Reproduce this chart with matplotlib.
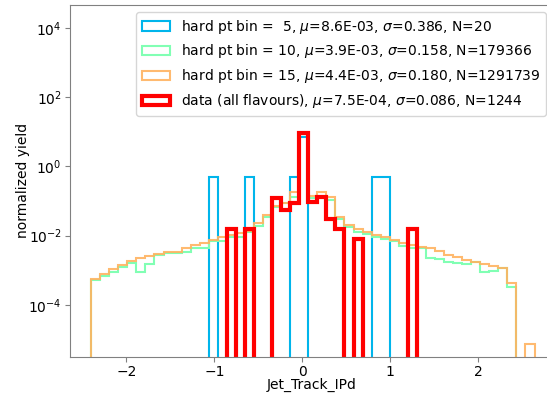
import numpy as np
import matplotlib
matplotlib.use('Agg')
import matplotlib.pyplot as plt

# bin edges of the Jet_Track_IPd histograms
edges = np.linspace(-2.4, 2.64, 50)

# hard pt bin 5 (N=20), entries per bin
counts_pt5 = np.zeros(49)
counts_pt5[[13, 17, 22, 31, 32]] = 1
counts_pt5[23] = 15

# hard pt bin 10, normalized yield per bin
yield_pt10 = [5.1e-4, 6.9e-4, 9.1e-4, 1.26e-3, 1.66e-3, 9.1e-4, 1.51e-3, 2.75e-3, 3.1e-3, 3.2e-3,
              3.4e-3, 4.5e-3, 4.3e-3, 7.1e-3, 7.2e-3, 8.9e-3, 8.9e-3, 1.32e-2, 1.9e-2, 3.55e-2,
              6.6e-2, 8.7e-2, 0.135, 8.9, 0.12, 0.135, 0.107, 2.95e-2, 1.8e-2, 1.26e-2,
              1.12e-2, 9.3e-3, 7.9e-3, 6.8e-3, 4.9e-3, 4.5e-3, 4.3e-3, 2.3e-3, 2.1e-3, 1.74e-3,
              1.58e-3, 1.48e-3, 1.78e-3, 8.7e-4, 9.5e-4, 1.15e-3, 3.2e-4, 0, 0]

# hard pt bin 15, normalized yield per bin
yield_pt15 = [5.5e-4, 7.6e-4, 1.07e-3, 1.41e-3, 1.86e-3, 2.24e-3, 2.57e-3, 2.95e-3, 3.47e-3, 3.47e-3,
              4.27e-3, 5.37e-3, 6.31e-3, 7.59e-3, 8.91e-3, 1.05e-2, 1.17e-2, 1.38e-2, 2.29e-2, 3.98e-2,
              7.24e-2, 8.91e-2, 0.186, 8.5, 0.141, 0.186, 0.129, 3.55e-2, 2.04e-2, 1.51e-2,
              1.26e-2, 1.05e-2, 8.9e-3, 7.6e-3, 6.0e-3, 5.4e-3, 4.8e-3, 4.3e-3, 3.5e-3, 2.8e-3,
              2.4e-3, 2.0e-3, 1.74e-3, 1.55e-3, 1.35e-3, 1.2e-3, 4.4e-4, 0, 7.5e-6]

# data (all flavours), N=1244, entries per bin
counts_data = np.zeros(49)
for k, c in {15: 2, 17: 2, 20: 16, 21: 7, 22: 11, 23: 1168, 24: 12, 25: 17,
             26: 4, 27: 2, 29: 1, 35: 2}.items():
    counts_data[k] = c

labels = ['hard pt bin =  5, $\\mu$=8.6E-03, $\\sigma$=0.386, N=20',
          'hard pt bin = 10, $\\mu$=3.9E-03, $\\sigma$=0.158, N=179366',
          'hard pt bin = 15, $\\mu$=4.4E-03, $\\sigma$=0.180, N=1291739',
          'data (all flavours), $\\mu$=7.5E-04, $\\sigma$=0.086, N=1244']

width = edges[1] - edges[0]
centers = edges[:-1] + width / 2
yield_pt5 = counts_pt5 / (counts_pt5.sum() * width)
yield_data = counts_data / (counts_data.sum() * width)

cmap = plt.cm.rainbow
fig = plt.figure(figsize=(5.47, 3.94), dpi=100)
ax = fig.add_axes([70 / 547, 37.3 / 394, 483 / 547, 351.7 / 394])

ax.hist(centers, bins=edges, weights=yield_pt5, histtype='step', color=cmap(0.25),
        lw=1.5, label=labels[0])
ax.hist(centers, bins=edges, weights=yield_pt10, histtype='step', color=cmap(0.5),
        lw=1.5, label=labels[1])
ax.hist(centers, bins=edges, weights=yield_pt15, histtype='step', color=cmap(0.75),
        lw=1.5, alpha=0.9, label=labels[2])
ax.hist(centers, bins=edges, weights=yield_data, histtype='step', color='red',
        lw=3, label=labels[3])

ax.set_yscale('log')
ax.set_ylim(3.2e-6, 4.6e4)
ax.set_xlim(-2.64, 2.85)
ax.set_yticks([1e-4, 1e-2, 1e0, 1e2, 1e4])
ax.minorticks_off()
ax.set_xlabel('Jet_Track_IPd', fontsize=10, labelpad=-1)
ax.set_ylabel('normalized yield', fontsize=10, labelpad=-1)
ax.tick_params(labelsize=10, color='0.5', pad=2.5)
for s in ax.spines.values():
    s.set_color('0.5')
ax.legend(loc='upper right', fontsize=10)

plt.savefig('out.png', dpi=100)
